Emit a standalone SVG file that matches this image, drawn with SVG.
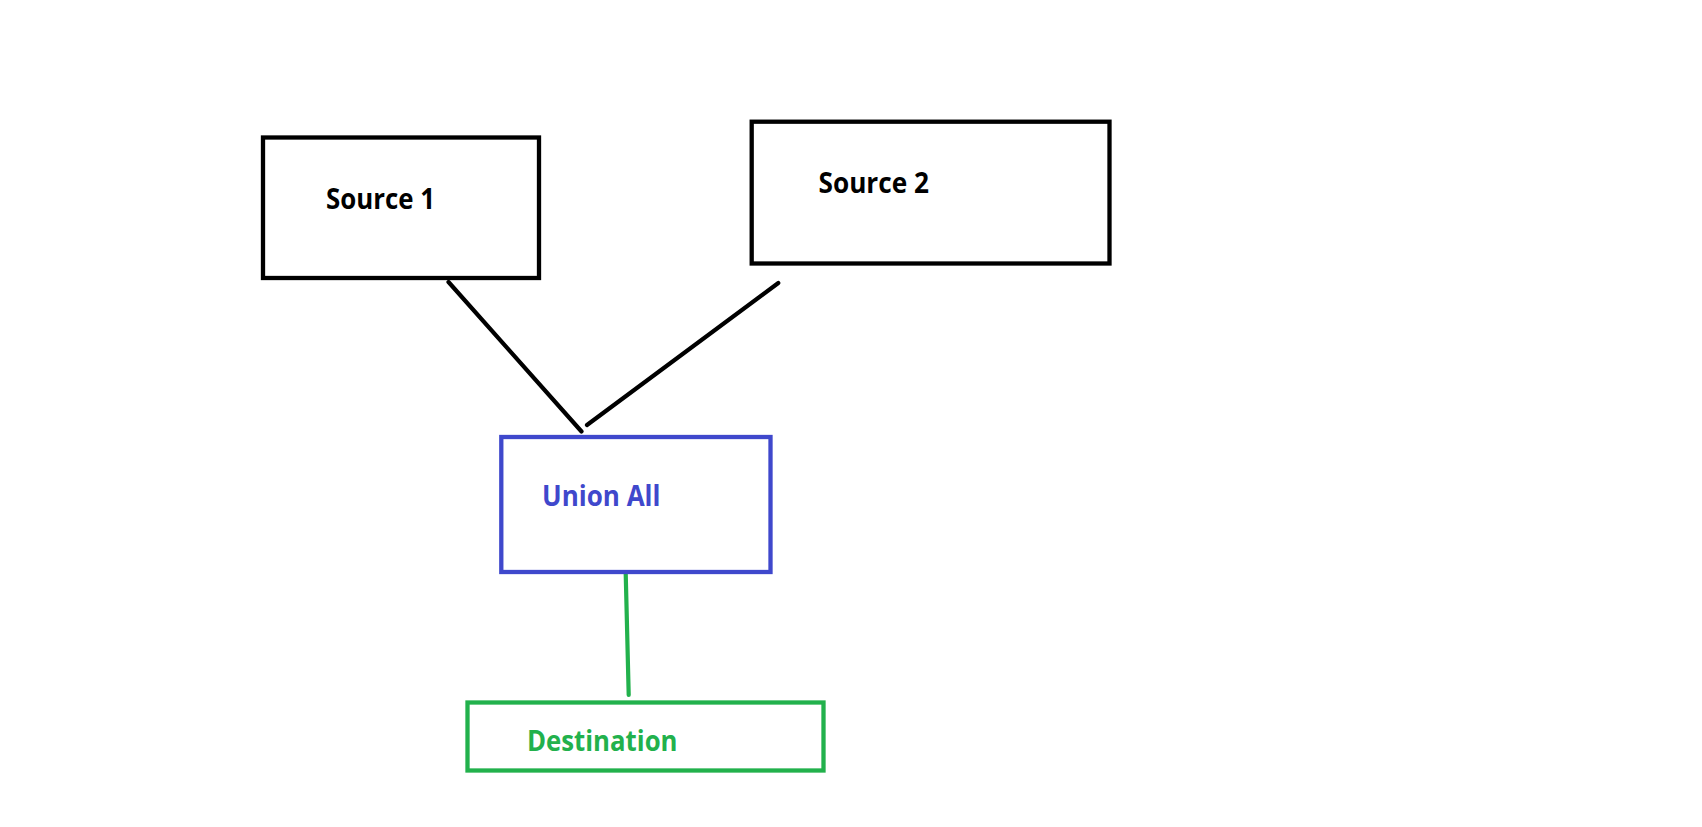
<svg xmlns="http://www.w3.org/2000/svg" width="1702" height="827" viewBox="0 0 1702 827">
<style>
.box{fill:none;stroke-width:4.3}
.lbl{font-family:"Open Sans","Liberation Sans",sans-serif;font-weight:bold;font-size:28px}
.conn{fill:none;stroke-width:4.2;stroke-linecap:round}
</style>
<rect width="1702" height="827" fill="#ffffff"/>
<g id="connectors">
<line class="conn" stroke="#000000" x1="448.5" y1="282" x2="581.5" y2="431.5"/>
<line class="conn" stroke="#000000" x1="778.3" y1="283" x2="587" y2="425"/>
<line class="conn" stroke="#22B14C" x1="625.7" y1="573" x2="628.7" y2="695"/>
</g>
<g id="source1">
<rect class="box" stroke="#000000" x="263" y="137.5" width="276" height="140.5"/>
<text class="lbl" fill="#000000" x="326" y="209.3" textLength="109" lengthAdjust="spacingAndGlyphs">Source 1</text>
</g>
<g id="source2">
<rect class="box" stroke="#000000" x="751.7" y="121.7" width="357.8" height="141.8"/>
<text class="lbl" fill="#000000" x="818.5" y="192.7" textLength="110.5" lengthAdjust="spacingAndGlyphs">Source 2</text>
</g>
<g id="unionall">
<rect class="box" stroke="#3F48CC" x="501.3" y="437" width="269.2" height="135"/>
<text class="lbl" fill="#3F48CC" x="542" y="506" textLength="118.5" lengthAdjust="spacingAndGlyphs">Union All</text>
</g>
<g id="destination">
<rect class="box" stroke="#22B14C" x="467.5" y="702.5" width="356" height="68"/>
<text class="lbl" fill="#22B14C" x="527" y="750.7" textLength="150.5" lengthAdjust="spacingAndGlyphs">Destination</text>
</g>
</svg>
